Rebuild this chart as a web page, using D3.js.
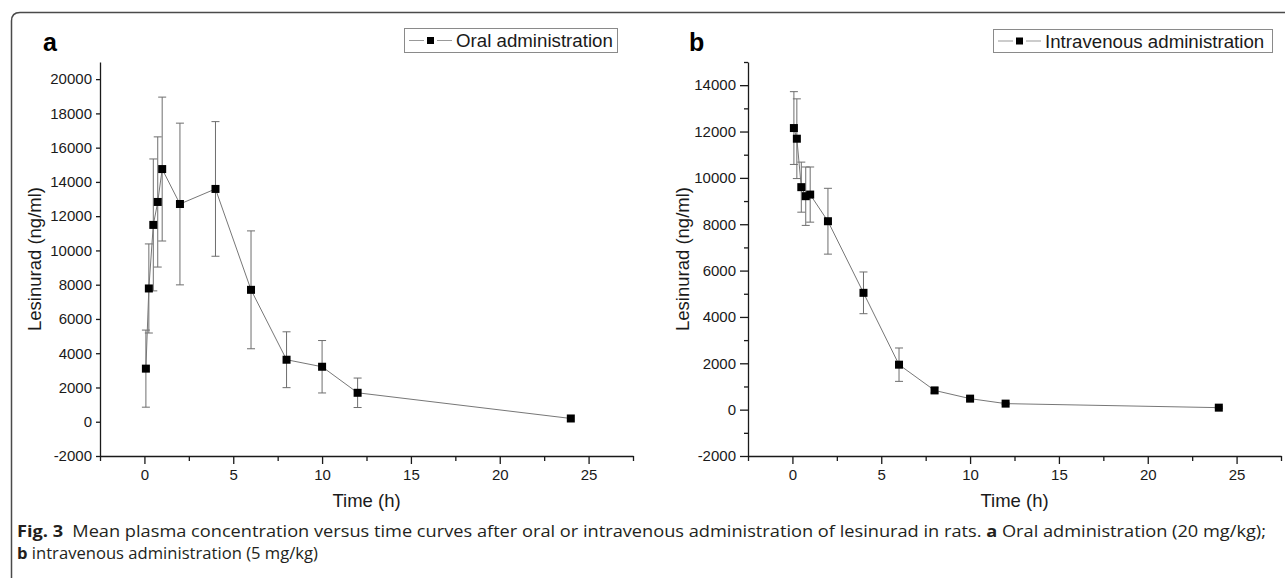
<!DOCTYPE html>
<html>
<head>
<meta charset="utf-8">
<script src="https://cdn.jsdelivr.net/npm/d3@7"></script>
<style>
  html, body { margin: 0; padding: 0; background: #fff; }
  svg { display: block; }
</style>
</head>
<body>
<svg id="chart" width="1285" height="578"></svg>
<script>
// ---- data ----
const timesOral = [0.083, 0.25, 0.5, 0.75, 1, 2, 4, 6, 8, 10, 12, 24];
const oralMean  = [3100, 7780, 11490, 12830, 14750, 12710, 13590, 7700, 3620, 3210, 1690, 190];
const oralSD    = [2250, 2600, 3850, 3800, 4200, 4720, 3930, 3440, 1630, 1530, 860, 0];

const timesIV   = [0.083, 0.25, 0.5, 0.75, 1, 2, 4, 6, 8, 10, 12, 24];
const ivMean    = [12150, 11690, 9600, 9210, 9280, 8130, 5040, 1940, 830, 475, 260, 86];
const ivSD      = [1570, 1720, 1080, 1260, 1190, 1420, 900, 720, 110, 60, 40, 30];

const xMajorTicks = [0, 5, 10, 15, 20, 25];
const xMinorTicks = [-2.5, 2.5, 7.5, 12.5, 17.5, 22.5, 27.5];
const yTicksOral  = [-2000, 0, 2000, 4000, 6000, 8000, 10000, 12000, 14000, 16000, 18000, 20000];
const yTicksIV    = [-2000, 0, 2000, 4000, 6000, 8000, 10000, 12000, 14000];
const yMinorIV    = [-1000, 1000, 3000, 5000, 7000, 9000, 11000, 13000, 15000];

const panelLabels  = ["a", "b"];
const legendLabels = ["Oral administration", "Intravenous administration"];
const xTitle = "Time (h)";
const yTitle = "Lesinurad (ng/ml)";

// ---- drawing ----
const svg = d3.select("#chart");
const FONT = "'Liberation Sans', Arial, sans-serif";
const fmt = d => String(d); // plain hyphen for negatives, as in the figure

// outer frame (rounded corner, continues past right and bottom edges)
svg.append("path")
  .attr("d", "M11.5,600 L11.5,21 Q11.5,12.5 20,12.5 L1300,12.5")
  .attr("fill", "none").attr("stroke", "#4a4a4a").attr("stroke-width", 1.5);

const panels = [
  {
    label: panelLabels[0], legend: legendLabels[0],
    t: timesOral, m: oralMean, sd: oralSD,
    yDomain: [-2000, 21000], yTicks: yTicksOral, yMinor: [],
    xRange: [100, 633], yRange: [456, 62],
    labelX: 43, titleX: 35,
    legBox: [404, 28, 213, 24], yTickLen: 4
  },
  {
    label: panelLabels[1], legend: legendLabels[1],
    t: timesIV, m: ivMean, sd: ivSD,
    yDomain: [-2000, 15000], yTicks: yTicksIV, yMinor: yMinorIV,
    xRange: [748, 1281], yRange: [456, 62],
    labelX: 689, titleX: 683,
    legBox: [993, 29, 279, 23], yTickLen: 8
  }
];

panels.forEach(p => {
  const g = svg.append("g");
  const x = d3.scaleLinear().domain([-2.5, 27.5]).range(p.xRange);
  const y = d3.scaleLinear().domain(p.yDomain).range(p.yRange);

  // x axis
  g.append("g").attr("transform", `translate(0,${p.yRange[0]})`)
    .call(d3.axisBottom(x).tickValues(xMajorTicks).tickSize(8).tickSizeOuter(0).tickPadding(5).tickFormat(fmt));
  const xm = g.append("g").attr("transform", `translate(0,${p.yRange[0]})`)
    .call(d3.axisBottom(x).tickValues(xMinorTicks).tickSize(5).tickFormat(""));
  xm.select(".domain").remove();

  // y axis
  g.append("g").attr("transform", `translate(${p.xRange[0]},0)`)
    .call(d3.axisLeft(y).tickValues(p.yTicks).tickSize(p.yTickLen).tickSizeOuter(0).tickPadding(4).tickFormat(fmt));
  if (p.yMinor.length) {
    const ym = g.append("g").attr("transform", `translate(${p.xRange[0]},0)`)
      .call(d3.axisLeft(y).tickValues(p.yMinor).tickSize(4).tickFormat(""));
    ym.select(".domain").remove();
  }

  g.selectAll(".domain, .tick line").attr("stroke", "#1a1a1a").attr("stroke-width", 1.3);
  g.selectAll(".tick text").attr("font-family", FONT).attr("font-size", 15).attr("fill", "#1a1a1a");

  // data
  const data = p.t.map((t, i) => ({ t, m: p.m[i], sd: p.sd[i] }));

  // error bars
  const eb = g.append("g").attr("stroke", "#6e6e6e").attr("stroke-width", 1);
  data.filter(d => d.sd > 0).forEach(d => {
    const cx = x(d.t), y1 = y(d.m + d.sd), y2 = y(d.m - d.sd);
    eb.append("line").attr("x1", cx).attr("x2", cx).attr("y1", y1).attr("y2", y2);
    eb.append("line").attr("x1", cx - 4).attr("x2", cx + 4).attr("y1", y1).attr("y2", y1);
    eb.append("line").attr("x1", cx - 4).attr("x2", cx + 4).attr("y1", y2).attr("y2", y2);
  });

  // line
  g.append("path").datum(data)
    .attr("d", d3.line().x(d => x(d.t)).y(d => y(d.m)))
    .attr("fill", "none").attr("stroke", "#777").attr("stroke-width", 1);

  // markers
  g.selectAll("rect.pt").data(data).join("rect").attr("class", "pt")
    .attr("x", d => x(d.t) - 4).attr("y", d => y(d.m) - 4)
    .attr("width", 8).attr("height", 8).attr("fill", "#000");

  // panel label
  g.append("text").attr("x", p.labelX).attr("y", 51).text(p.label)
    .attr("font-family", FONT).attr("font-weight", "bold").attr("font-size", 25).attr("fill", "#000");

  // axis titles
  g.append("text")
    .attr("x", (p.xRange[0] + p.xRange[1]) / 2).attr("y", 507)
    .attr("text-anchor", "middle").text(xTitle)
    .attr("font-family", FONT).attr("font-size", 18.5).attr("fill", "#1a1a1a");
  g.append("text")
    .attr("transform", `translate(${p.titleX + 6},${(p.yRange[0] + p.yRange[1]) / 2}) rotate(-90)`)
    .attr("text-anchor", "middle").text(yTitle)
    .attr("font-family", FONT).attr("font-size", 18.5).attr("fill", "#1a1a1a");

  // legend
  const [lx, ly, lw, lh] = p.legBox;
  const lg = g.append("g");
  lg.append("rect").attr("x", lx + 0.5).attr("y", ly + 0.5).attr("width", lw).attr("height", lh)
    .attr("fill", "#fff").attr("stroke", "#8a8a8a").attr("stroke-width", 1);
  const cy = ly + lh / 2 + 0.5;
  [[lx + 5, lx + 20], [lx + 33, lx + 48]].forEach(([a, b]) => {
    lg.append("line").attr("x1", a).attr("x2", b).attr("y1", cy).attr("y2", cy)
      .attr("stroke", "#999").attr("stroke-width", 1);
  });
  lg.append("rect").attr("x", lx + 26.5 - 3.5).attr("y", cy - 3.5).attr("width", 7).attr("height", 7).attr("fill", "#000");
  lg.append("text").attr("x", lx + 52).attr("y", cy + 6.7).text(p.legend)
    .attr("font-family", FONT).attr("font-size", 18.7).attr("fill", "#1a1a1a");
});

// caption
const CAP = "'Open Sans', 'Noto Sans', sans-serif";
const c1 = svg.append("text").attr("x", 17).attr("y", 537)
  .attr("font-family", CAP).attr("font-size", 15.5).attr("fill", "#231f20")
  .attr("textLength", 1249).attr("lengthAdjust", "spacingAndGlyphs");
c1.append("tspan").attr("font-weight", "bold").text("Fig. 3");
c1.append("tspan").text("\u2002Mean plasma concentration versus time curves after oral or intravenous administration of lesinurad in rats. ");
c1.append("tspan").attr("font-weight", "bold").text("a");
c1.append("tspan").text(" Oral administration (20 mg/kg);");

const c2 = svg.append("text").attr("x", 17).attr("y", 559)
  .attr("font-family", CAP).attr("font-size", 15.5).attr("fill", "#231f20")
  .attr("textLength", 301).attr("lengthAdjust", "spacingAndGlyphs");
c2.append("tspan").attr("font-weight", "bold").text("b");
c2.append("tspan").text(" intravenous administration (5 mg/kg)");
</script>
</body>
</html>
